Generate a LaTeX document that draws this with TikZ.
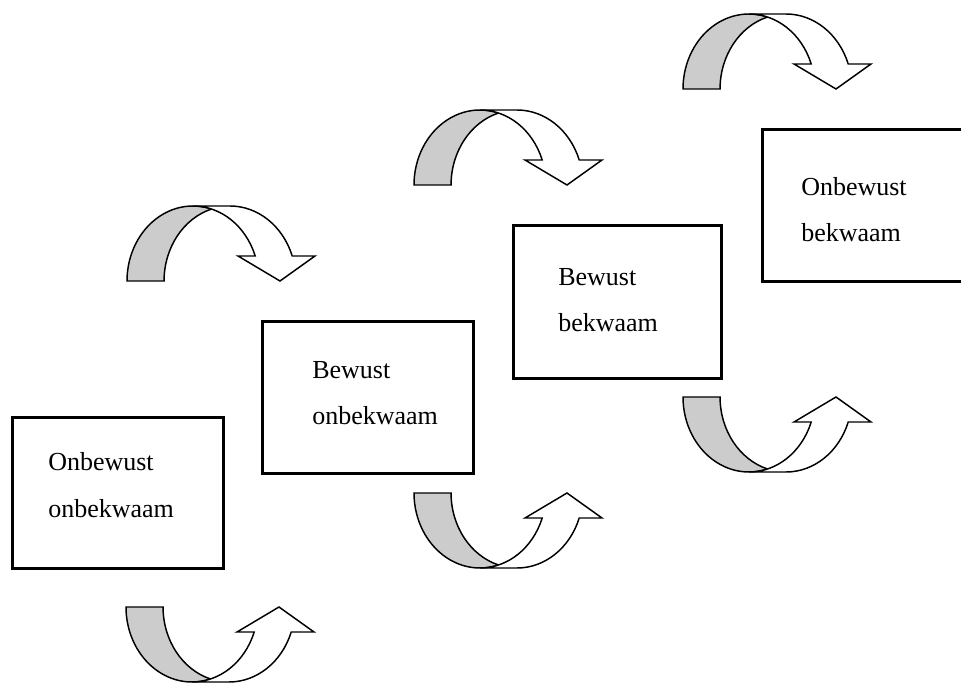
\documentclass[tikz,border=0pt]{standalone}
\usepackage{fontspec}
\setmainfont{Liberation Serif}
\definecolor{bandgrey}{gray}{0.8}
\tikzset{
	stagebox/.style={draw=black,line width=2.4pt,inner sep=0pt,anchor=north west},
	stagetext/.style={anchor=base west,inner sep=0pt,align=left,font=\fontsize{19.5}{35}\selectfont},
	bandback/.style={draw=black,line width=1.1pt,fill=bandgrey},
	bandfront/.style={draw=black,line width=1.1pt,fill=white},
}
\begin{document}
\begin{tikzpicture}[x=0.75pt,y=-0.75pt]
	\useasboundingbox (0,0) rectangle (961,684);
	\clip (0,0) rectangle (961,684);
	\node[stagebox,minimum width=158.25pt,minimum height=113.25pt] (uu) at (11,416) {};
	\node[stagebox,minimum width=158.25pt,minimum height=114pt] (bu) at (261,320) {};
	\node[stagebox,minimum width=156pt,minimum height=114.75pt] (bb) at (512,224) {};
	\node[stagebox,minimum width=164.25pt,minimum height=114pt] (ub) at (761,128) {};
	% base west is the second line
	\node[stagetext] (uutext) at (48,517) {Onbewust\\onbekwaam};
	\node[stagetext] (butext) at (312,425) {Bewust\\onbekwaam};
	\node[stagetext] (bbtext) at (558,332) {Bewust\\bekwaam};
	\node[stagetext] (ubtext) at (801,242) {Onbewust\\bekwaam};
	% curved arrows, two ellipses 37 apart
	\foreach \ax/\ay/\s in {127/281/-1,414/185/-1,683/89/-1,126/607/1,414/493/1,683/397/1}{
	\begin{scope}[shift={(\ax,\ay)},yscale=\s]
	\filldraw[bandback] (0,0) arc[start angle=180,end angle=73.7,x radius=66,y radius=75]
		arc[start angle=106.3,end angle=180,x radius=66,y radius=75] -- cycle;
	\filldraw[bandfront] (66,75) -- (103,75) arc[start angle=90,end angle=19.47,x radius=66,y radius=75]
		-- (188,25) -- (153,0) -- (111,25) -- (128.2,25)
		arc[start angle=19.47,end angle=90,x radius=66,y radius=75] -- cycle;
	\end{scope}
	}
\end{tikzpicture}
\end{document}
